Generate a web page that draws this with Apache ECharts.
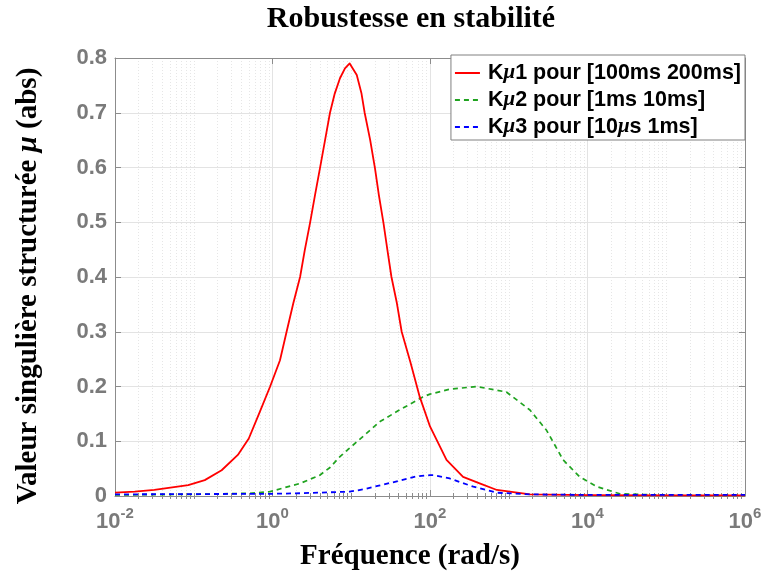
<!DOCTYPE html>
<html>
<head>
<meta charset="utf-8">
<script src="https://cdn.jsdelivr.net/npm/echarts@6/dist/echarts.min.js"></script>
<style>html,body{margin:0;padding:0;background:#fff}#c{width:766px;height:577px}</style>
</head>
<body>
<div id="c"></div>
<script>
// ---- data ----
var freqRed = [0.01, 0.0178, 0.0316, 0.085, 0.138, 0.226, 0.363, 0.5, 0.692, 0.933, 1.245, 1.51, 1.837, 2.24, 2.57, 2.99, 3.47, 4.01, 4.65, 5.37, 6.17, 7.19, 8.32, 9.55, 11.75, 13.5, 14.8, 17.4, 20, 22.4, 25.7, 28.8, 32.4, 38, 43.7, 56.2, 74.1, 100, 162, 263, 427, 708, 1860, 10000, 100000, 1000000];
var muRed   = [0.006, 0.008, 0.011, 0.02, 0.029, 0.047, 0.075, 0.105, 0.154, 0.2, 0.248, 0.30, 0.352, 0.40, 0.449, 0.498, 0.55, 0.599, 0.65, 0.70, 0.735, 0.763, 0.781, 0.79, 0.769, 0.735, 0.70, 0.65, 0.599, 0.55, 0.498, 0.449, 0.40, 0.352, 0.30, 0.245, 0.181, 0.127, 0.066, 0.035, 0.023, 0.011, 0.003, 0.0015, 0.001, 0.001];

var freqGreen = [0.01, 0.1, 0.518, 0.933, 2.24, 3.98, 5.37, 7.19, 12.9, 23.2, 39.8, 81.3, 100, 178, 389, 933, 1860, 3020, 4900, 7940, 13200, 25700, 100000, 1000000];
var muGreen   = [0.002, 0.003, 0.005, 0.008, 0.023, 0.038, 0.052, 0.072, 0.104, 0.136, 0.156, 0.181, 0.186, 0.195, 0.2, 0.19, 0.157, 0.12, 0.066, 0.035, 0.017, 0.004, 0.0015, 0.001];

var freqBlue = [0.01, 1, 2.24, 9.55, 14.1, 22.4, 39.8, 67.6, 100, 110, 178, 355, 708, 1860, 10000, 1000000];
var muBlue   = [0.003, 0.004, 0.005, 0.008, 0.012, 0.019, 0.0275, 0.036, 0.038, 0.038, 0.032, 0.017, 0.006, 0.003, 0.002, 0.002];

var legendNames = ['Kμ1 pour [100ms 200ms]', 'Kμ2 pour [1ms 10ms]', 'Kμ3 pour [10μs 1ms]'];
var majorTicks = [0.01, 1, 100, 10000, 1000000];
var titleText = 'Robustesse en stabilité';
var xName = 'Fréquence (rad/s)';
var yNameParts = ['Valeur singulière structurée ', 'μ', ' (abs)'];

// minor log positions (2..10 x 10^k, excluding labelled decades)
var minorTicks = [];
for (var k = -2; k < 6; k++) {
  for (var m = 2; m <= 10; m++) {
    var v = +(m * Math.pow(10, k)).toPrecision(6);
    if (majorTicks.indexOf(v) < 0) minorTicks.push(v);
  }
}

function pairs(xs, ys) { return xs.map(function (x, i) { return [x, ys[i]]; }); }

var AX = '#8c8c8c';
var LBL = '#7a7a7a';

function legendFmt(name) {
  var parts = name.split('μ');
  var out = '';
  for (var i = 0; i < parts.length; i++) {
    if (i > 0) out += '{m|μ}';
    if (parts[i]) out += '{' + (i === 0 ? 'f' : 't') + '|' + parts[i] + '}';
  }
  return out;
}

var baseLog = { type: 'log', logBase: 10, min: 0.01, max: 1000000, gridIndex: 0 };

var chart = echarts.init(document.getElementById('c'), null, { renderer: 'canvas' });
chart.setOption({
  animation: false,
  backgroundColor: '#ffffff',
  graphic: [
    {
      type: 'text', x: 411, y: 19, z: 10,
      style: { text: titleText, font: 'bold 30px "Liberation Serif"', fill: '#000', align: 'center', verticalAlign: 'middle' }
    },
    {
      type: 'text', x: 410, y: 557, z: 10,
      style: { text: xName, font: 'bold 29px "Liberation Serif"', fill: '#000', align: 'center', verticalAlign: 'middle' }
    },
    {
      type: 'text', x: 29, y: 286, rotation: Math.PI / 2, z: 10,
      style: {
        text: '{n|' + yNameParts[0] + '}{m|' + yNameParts[1] + '}{n|' + yNameParts[2] + '}',
        align: 'center', verticalAlign: 'middle',
        rich: {
          n: { fontFamily: 'Liberation Serif', fontWeight: 'bold', fontSize: 29, fill: '#000', color: '#000' },
          m: { fontFamily: 'Liberation Serif', fontStyle: 'italic', fontWeight: 'bold', fontSize: 29, fill: '#000', color: '#000' }
        }
      }
    }
  ],
  grid: { left: 115, right: 21, top: 58, bottom: 81, containLabel: false, show: false },
  legend: {
    orient: 'vertical', right: 21, top: 55,
    backgroundColor: '#fff', borderColor: '#808080', borderWidth: 1,
    padding: [7, 4, 2, 3], itemGap: 5, itemWidth: 25, itemHeight: 14,
    itemStyle: { opacity: 0 },
    data: legendNames,
    formatter: legendFmt,
    textStyle: {
      rich: {
        f: { fontFamily: 'Liberation Sans', fontWeight: 'bold', fontSize: 21.5, color: '#000', padding: [0, 0, 0, 3] },
        t: { fontFamily: 'Liberation Sans', fontWeight: 'bold', fontSize: 21.5, color: '#000' },
        m: { fontFamily: 'Liberation Serif', fontStyle: 'italic', fontWeight: 'bold', fontSize: 21, color: '#000' }
      }
    }
  },
  xAxis: [
    Object.assign({}, baseLog, {
      position: 'bottom',
      axisLine: { show: true, onZero: false, lineStyle: { color: AX, width: 1 } },
      axisTick: { show: true, inside: true, length: 6, customValues: majorTicks, lineStyle: { color: AX } },
      axisLabel: {
        show: true, margin: 10, customValues: majorTicks,
        formatter: function (v) {
          var e = Math.round(Math.log10(v));
          return '{b|10}{s|' + e + '}';
        },
        rich: {
          b: { fontFamily: 'Liberation Sans', fontWeight: 'bold', fontSize: 22, color: LBL, verticalAlign: 'bottom' },
          s: { fontFamily: 'Liberation Sans', fontWeight: 'bold', fontSize: 15, color: LBL, verticalAlign: 'top', padding: [0, 0, 12, 0] }
        }
      },
      splitLine: { show: true, lineStyle: { color: '#e3e3e3', width: 1 } }
    }),
    Object.assign({}, baseLog, {
      position: 'bottom',
      axisLine: { show: false },
      axisTick: { show: true, inside: true, length: 3, customValues: minorTicks, lineStyle: { color: AX } },
      axisLabel: { show: false },
      splitLine: { show: true, lineStyle: { color: '#e6e6e6', width: 1, type: [1, 2] } }
    }),
    Object.assign({}, baseLog, {
      position: 'top',
      axisLine: { show: true, onZero: false, lineStyle: { color: AX, width: 1 } },
      axisTick: { show: true, inside: true, length: 6, customValues: majorTicks, lineStyle: { color: AX } },
      axisLabel: { show: false },
      splitLine: { show: false }
    }),
    Object.assign({}, baseLog, {
      position: 'top',
      axisLine: { show: false },
      axisTick: { show: true, inside: true, length: 3, customValues: minorTicks, lineStyle: { color: AX } },
      axisLabel: { show: false },
      splitLine: { show: false }
    })
  ],
  yAxis: [
    {
      type: 'value', min: 0, max: 0.8, interval: 0.1, position: 'left',
      axisLine: { show: true, onZero: false, lineStyle: { color: AX, width: 1 } },
      axisTick: { show: true, inside: true, length: 6, lineStyle: { color: AX } },
      axisLabel: {
        margin: 8, color: LBL, fontFamily: 'Liberation Sans', fontWeight: 'bold', fontSize: 22,
        formatter: function (v) { return String(+v.toFixed(1)); }
      },
      splitLine: { show: true, lineStyle: { color: '#e3e3e3', width: 1 } }
    },
    {
      type: 'value', min: 0, max: 0.8, interval: 0.1, position: 'right',
      axisLine: { show: true, onZero: false, lineStyle: { color: AX, width: 1 } },
      axisTick: { show: true, inside: true, length: 6, lineStyle: { color: AX } },
      axisLabel: { show: false },
      splitLine: { show: false }
    }
  ],
  series: [
    {
      name: legendNames[0], type: 'line', xAxisIndex: 0, yAxisIndex: 0,
      data: pairs(freqRed, muRed), showSymbol: false, symbol: 'none', smooth: false,
      lineStyle: { color: '#ff0000', width: 1.8, type: 'solid', join: 'round' }, itemStyle: { color: '#ff0000' }, z: 4
    },
    {
      name: legendNames[1], type: 'line', xAxisIndex: 0, yAxisIndex: 0,
      data: pairs(freqGreen, muGreen), showSymbol: false, symbol: 'none', smooth: false,
      lineStyle: { color: '#1fa31f', width: 1.7, type: [5, 4], join: 'round' }, itemStyle: { color: '#1fa31f' }, z: 3
    },
    {
      name: legendNames[2], type: 'line', xAxisIndex: 0, yAxisIndex: 0,
      data: pairs(freqBlue, muBlue), showSymbol: false, symbol: 'none', smooth: false,
      lineStyle: { color: '#0000ff', width: 1.8, type: [5, 4], join: 'round' }, itemStyle: { color: '#0000ff' }, z: 5
    }
  ]
});
</script>
</body>
</html>
